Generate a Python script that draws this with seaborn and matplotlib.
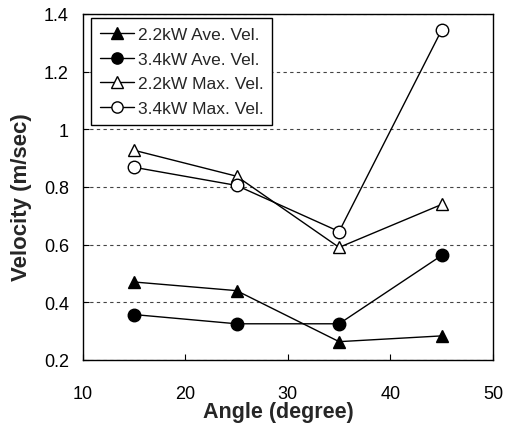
import matplotlib
matplotlib.use("Agg")
import matplotlib.pyplot as plt
import seaborn as sns
import pandas as pd

angles = [15, 25, 35, 45]
ave_22 = [0.47, 0.44, 0.263, 0.283]
ave_34 = [0.357, 0.325, 0.325, 0.562]
max_22 = [0.927, 0.837, 0.59, 0.739]
max_34 = [0.868, 0.805, 0.645, 1.344]
labels = ["2.2kW Ave. Vel.", "3.4kW Ave. Vel.", "2.2kW Max. Vel.", "3.4kW Max. Vel."]
x_ticks = [10, 20, 30, 40, 50]
y_ticks = [0.2, 0.4, 0.6, 0.8, 1.0, 1.2, 1.4]
y_ticklabels = ["0.2", "0.4", "0.6", "0.8", "1", "1.2", "1.4"]

sns.set_theme(style="white")
plt.rcParams["font.family"] = ["Liberation Sans", "DejaVu Sans"]

fig = plt.figure(figsize=(5.05, 4.27), dpi=100)
ax = fig.add_axes([0.164, 0.155, 0.812, 0.81])

series = [ave_22, ave_34, max_22, max_34]
markers = ["^", "o", "^", "o"]
faces = ["black", "black", "white", "white"]
for vals, lab, mk, fc in zip(series, labels, markers, faces):
    df = pd.DataFrame({"Angle": angles, "Velocity": vals})
    sns.lineplot(data=df, x="Angle", y="Velocity", ax=ax, color="black", lw=1,
                 marker=mk, markersize=9, markerfacecolor=fc, markeredgecolor="black",
                 markeredgewidth=1, label=lab)

ax.set_xlim(10, 50)
ax.set_ylim(0.2, 1.4)
ax.set_xticks(x_ticks)
ax.set_yticks(y_ticks)
ax.set_yticklabels(y_ticklabels)
ax.yaxis.grid(True, linestyle=(0, (3, 3)), color="#444444", lw=0.8)
ax.xaxis.grid(False)
for s in ax.spines.values():
    s.set_color("black")
    s.set_linewidth(1)
ax.tick_params(axis="both", direction="in", length=4, width=0.8, colors="black",
               labelsize=13, bottom=True, left=True)
ax.tick_params(axis="x", pad=18)
ax.tick_params(axis="y", pad=10)
ax.set_xlabel("Angle (degree)", fontsize=15.5, fontweight="bold")
ax.set_ylabel("Velocity (m/sec)", fontsize=16, fontweight="bold")
ax.xaxis.set_label_coords(0.476, -0.118)
ax.yaxis.set_label_coords(-0.124, 0.474)

leg = ax.legend(loc="upper left", bbox_to_anchor=(0.02, 0.988), fontsize=12.5,
                frameon=True, fancybox=False, edgecolor="black", framealpha=1,
                handlelength=2.0, handletextpad=0.2, borderpad=0.5, labelspacing=0.55,
                borderaxespad=0, markerscale=0.9)
leg.get_frame().set_linewidth(1)

fig.savefig("out.png", dpi=100)
